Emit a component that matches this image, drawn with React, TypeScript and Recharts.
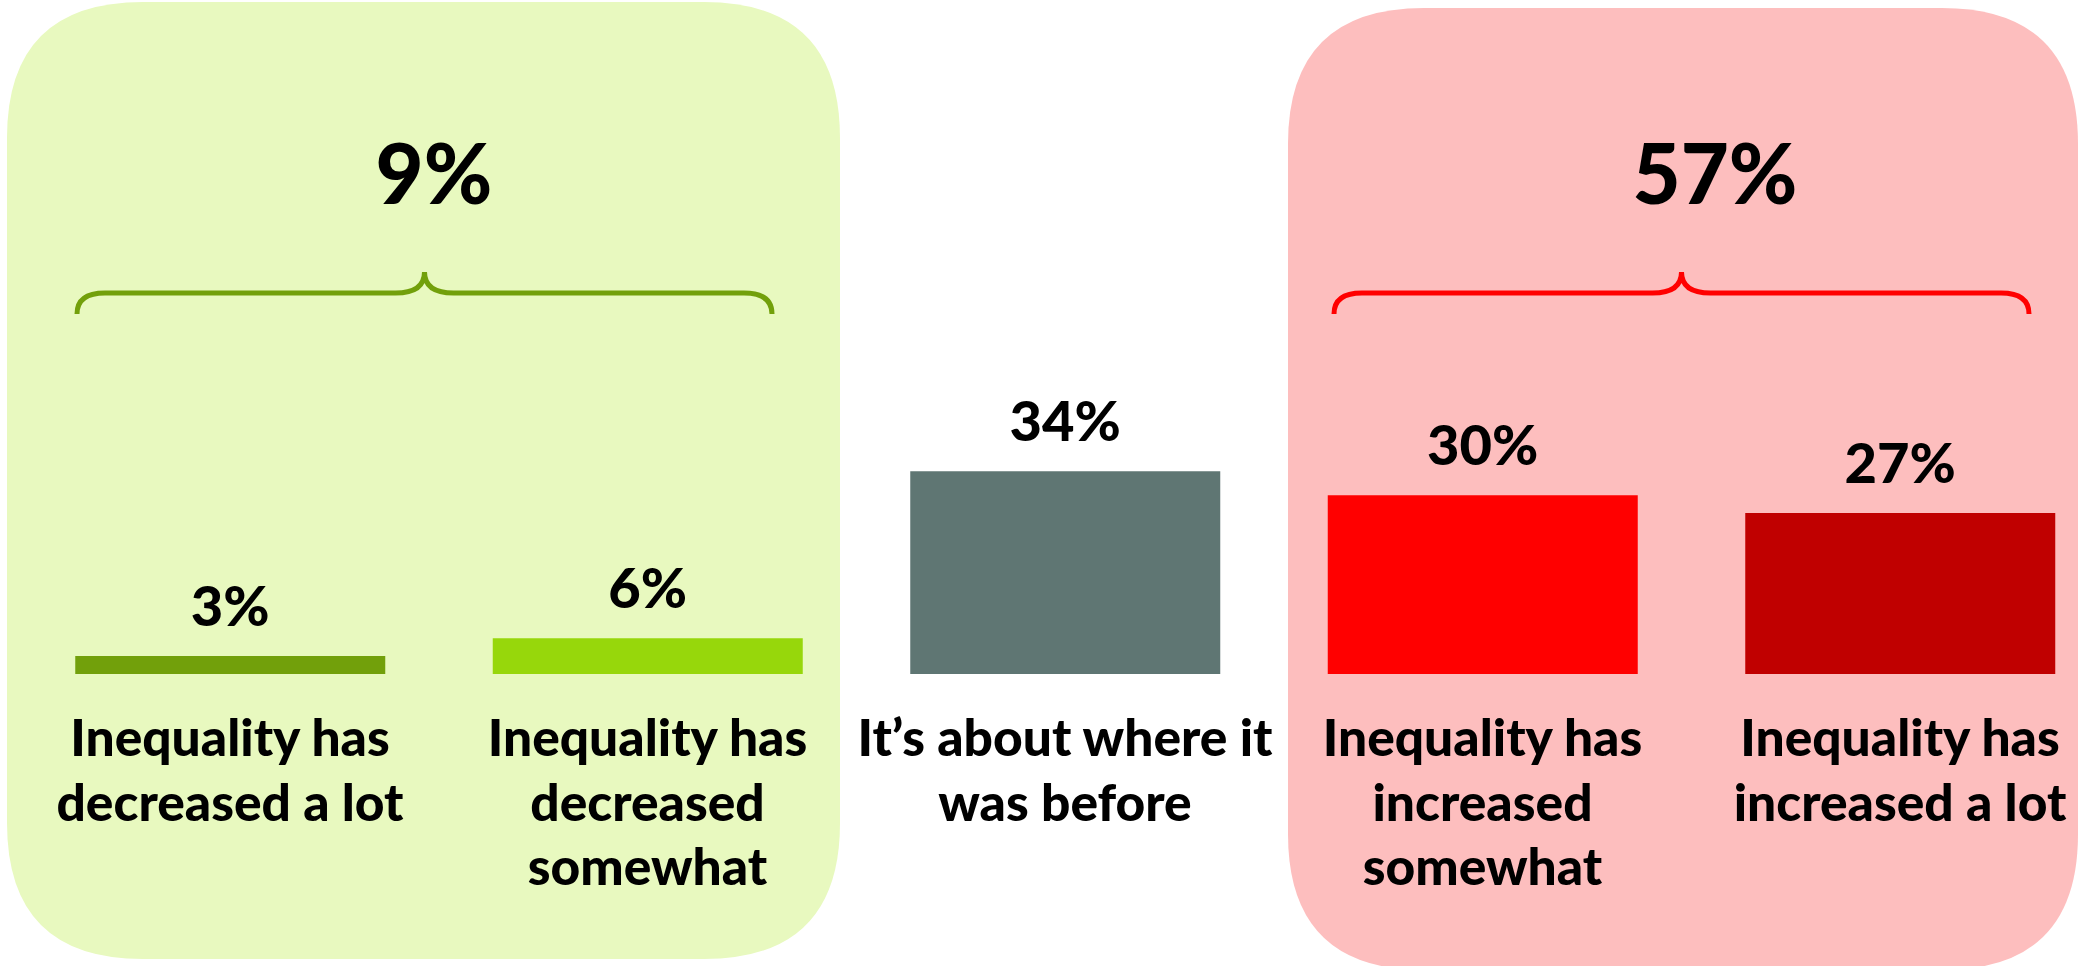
import React from 'react';
import { BarChart, Bar, XAxis, YAxis, Cell, LabelList, ReferenceArea } from 'recharts';

// ---- data ----
const categories = [
  'Decreased a lot',
  'Decreased somewhat',
  'About where it was',
  'Increased somewhat',
  'Increased a lot',
];
const categoryLines = [
  ['Inequality has', 'decreased a lot'],
  ['Inequality has', 'decreased', 'somewhat'],
  ['It’s about where it', 'was before'],
  ['Inequality has', 'increased', 'somewhat'],
  ['Inequality has', 'increased a lot'],
];
const shares = [3, 6, 34, 30, 27];
const barColors = ['#72a00b', '#97d70b', '#5f7673', '#ff0000', '#c00000'];

const groupTotals = [9, 57];
const groupFirst = [0, 3];
const groupLast = [1, 4];
const groupPanelColors = ['#e8f9bf', '#fdbebe'];
const groupBraceColors = ['#72a00b', '#ff0000'];

// ---- layout / style ----
const W = 2080;
const H = 966;
const FONT = 'Lato, "Open Sans", sans-serif';
const AXIS_Y = 674;
const PX_PER_PCT = 5.96;

// pixel tweaks of each group's panel, brace and total label, relative to its bands
const panelLayout = [
  { dx0: -14.25, dx1: -16.25, top: 2, bottom: 959, braceDx0: 55.75, braceDx1: -84.25, totalX: 434 },
  { dx0: 14.25, dx1: -30.75, top: 8, bottom: 970, braceDx0: 60.25, braceDx1: -79.75, totalX: 1715 },
];

const rows = categories.map((c, i) => ({ key: c, share: shares[i] }));

function roundedRect(x0: number, y0: number, x1: number, y1: number, r: number) {
  return `M${x0 + r},${y0} H${x1 - r} Q${x1},${y0} ${x1},${y0 + r} V${y1 - r} Q${x1},${y1} ${x1 - r},${y1} H${x0 + r} Q${x0},${y1} ${x0},${y1 - r} V${y0 + r} Q${x0},${y0} ${x0 + r},${y0} Z`;
}

function bracePath(x0: number, x1: number) {
  const mid = (x0 + x1) / 2;
  const yTip = 272;
  const yLine = 293;
  const yEnd = 314;
  return `M${x0},${yEnd} Q${x0},${yLine} ${x0 + 28},${yLine} H${mid - 29} Q${mid},${yLine} ${mid},${yTip} Q${mid},${yLine} ${mid + 29},${yLine} H${x1 - 28} Q${x1},${yLine} ${x1},${yEnd}`;
}

const GroupPanel = (props: any) => {
  const { x, width, g } = props;
  const L = panelLayout[g];
  const px0 = x + L.dx0;
  const px1 = x + width + L.dx1;
  const bx0 = x + L.braceDx0;
  const bx1 = x + width + L.braceDx1;
  return (
    <g>
      <path d={roundedRect(px0, L.top, px1, L.bottom, 136)} fill={groupPanelColors[g]} />
      <path d={bracePath(bx0, bx1)} fill="none" stroke={groupBraceColors[g]} strokeWidth={5} />
      <text x={L.totalX} y={204} textAnchor="middle" fontFamily={FONT} fontWeight={900} fontSize={83} fill="#000">
        {groupTotals[g]}%
      </text>
    </g>
  );
};

const CategoryTick = (props: any) => {
  const { x, y, payload } = props;
  const idx = categories.indexOf(payload.value);
  const lines = categoryLines[idx] || [];
  return (
    <text x={x} y={y} textAnchor="middle" fontFamily={FONT} fontWeight={900} fontSize={51.5} fill="#000">
      {lines.map((l, i) => (
        <tspan key={i} x={x} dy={i === 0 ? 82 : 64.5}>
          {l}
        </tspan>
      ))}
    </text>
  );
};

const ValueLabel = (props: any) => {
  const { x, y, width, value } = props;
  return (
    <text x={x + width / 2} y={y - 30} textAnchor="middle" fontFamily={FONT} fontWeight={900} fontSize={56} fill="#000">
      {value}%
    </text>
  );
};

export default function App() {
  return (
    <div style={{ position: 'absolute', left: 0, top: 0, width: W, height: H, overflow: 'hidden', background: '#fff' }}>
      <BarChart
        width={2110}
        height={H}
        data={rows}
        margin={{ top: 0, right: 1.25, bottom: 0, left: 21.25 }}
        barSize={310}
      >
        {groupTotals.map((_, g) => (
          <ReferenceArea
            key={g}
            x1={categories[groupFirst[g]]}
            x2={categories[groupLast[g]]}
            ifOverflow="visible"
            shape={(p: any) => <GroupPanel {...p} g={g} />}
          />
        ))}
        <XAxis
          dataKey="key"
          height={H - AXIS_Y}
          axisLine={false}
          tickLine={false}
          tickSize={0}
          tickMargin={0}
          interval={0}
          tick={<CategoryTick />}
        />
        <YAxis hide domain={[0, AXIS_Y / PX_PER_PCT]} allowDataOverflow />
        <Bar dataKey="share" isAnimationActive={false}>
          {shares.map((_, i) => (
            <Cell key={i} fill={barColors[i]} />
          ))}
          <LabelList dataKey="share" content={<ValueLabel />} />
        </Bar>
      </BarChart>
    </div>
  );
}
